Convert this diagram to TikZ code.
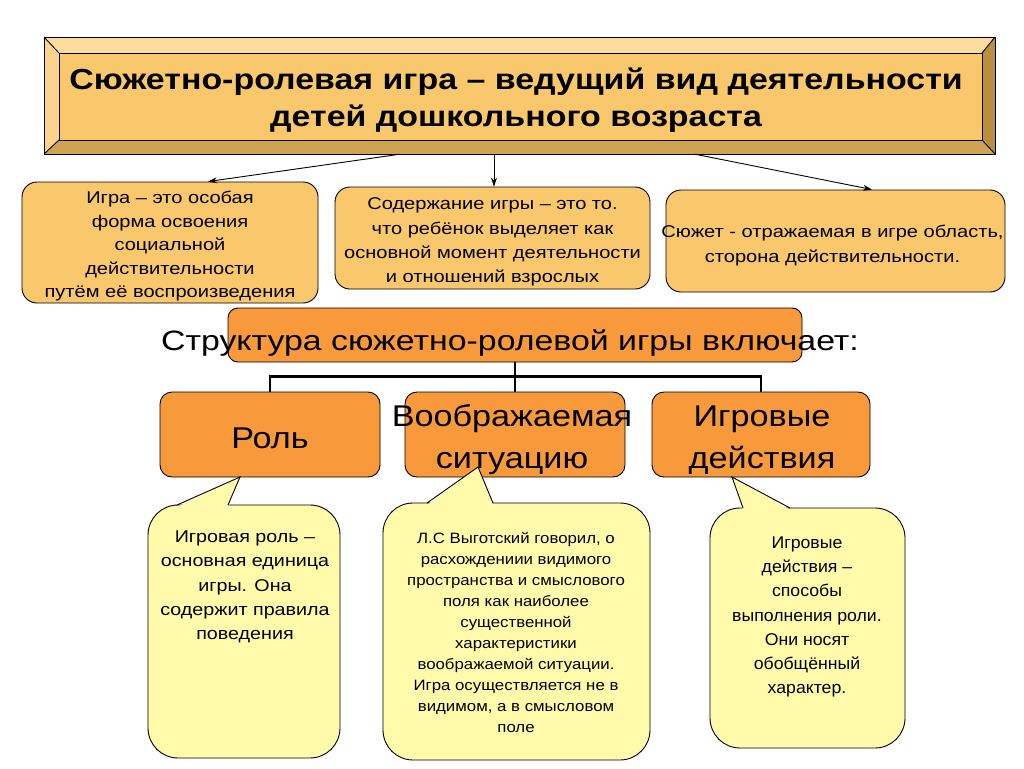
\documentclass[tikz,border=0pt]{standalone}
\usepackage{fontspec}
\setmainfont{Liberation Sans}
\newfontfamily\fTitle[FakeStretch=1.17]{Liberation Sans}
\newfontfamily\fBox[FakeStretch=1.18]{Liberation Sans}
\newfontfamily\fStruct[FakeStretch=1.21]{Liberation Sans}
\newfontfamily\fRole[FakeStretch=1.14]{Liberation Sans}
\newfontfamily\fCa[FakeStretch=1.16]{Liberation Sans}
\newfontfamily\fCb[FakeStretch=1.12]{Liberation Sans}
\newfontfamily\fCc[FakeStretch=1.04]{Liberation Sans}
\usetikzlibrary{arrows.meta,calc}
\definecolor{gold}{HTML}{F9C86C}
\definecolor{goldlt}{HTML}{FCDC9C}
\definecolor{goldlf}{HTML}{FBD38C}
\definecolor{golddk}{HTML}{CFA352}
\definecolor{goldrt}{HTML}{B88F3E}
\definecolor{orng}{HTML}{F89A3C}
\definecolor{callyel}{HTML}{FFFBAA}
\tikzset{
  goldbox/.style={draw=black, line width=0.9pt, fill=gold, rounded corners=15pt, inner sep=0pt},
  orbox/.style={draw=black, line width=0.9pt, fill=orng, rounded corners=12pt, inner sep=0pt},
  callbox/.style={draw=black, line width=0.9pt, fill=callyel, rounded corners=30pt, inner sep=0pt},
  txt/.style={align=center, inner sep=0pt, text=black},
  arr/.style={line width=0.9pt, -{Stealth[length=9pt,width=6pt]}},
  tree/.style={line width=2.6pt},
  bev/.style={draw=black, line width=0.9pt, line join=miter},
  pointer/.style={line width=0.9pt, line join=miter}
}
\begin{document}
\begin{tikzpicture}[x=1pt,y=-1pt]
\useasboundingbox (0,0) rectangle (1024,768);
\fill[white] (0,0) rectangle (1024,768);

% ---------- title bevel box ----------
\fill[goldlt] (44,37) -- (995,37) -- (982,53) -- (59,53) -- cycle;
\fill[goldlf] (44,37) -- (59,53) -- (59,140) -- (44,154) -- cycle;
\fill[golddk] (44,154) -- (59,140) -- (982,140) -- (995,154) -- cycle;
\fill[goldrt] (995,37) -- (995,154) -- (982,140) -- (982,53) -- cycle;
\fill[gold] (59,53) rectangle (982,140);
\draw[bev] (44,37) rectangle (995,154);
\draw[bev] (59,53) rectangle (982,140);
\draw[bev] (44,37) -- (59,53) (995,37) -- (982,53) (44,154) -- (59,140) (995,154) -- (982,140);
\node[minimum width=951pt, minimum height=117pt, inner sep=0pt] (tb) at (519.5,95.5) {};
\node[txt, font=\fTitle\fontsize{29}{37}\selectfont\bfseries] (title) at (516,100)
  {Сюжетно-ролевая игра – ведущий вид деятельности\\детей дошкольного возраста};

% ---------- three definition boxes ----------
\node[goldbox, minimum width=296pt, minimum height=121pt] (b1) at (170,242.5) {};
\node[txt, font=\fBox\fontsize{17}{23.5}\selectfont] at ([yshift=-4pt]b1.center)
  {Игра – это особая\\форма освоения\\социальной\\действительности\\путём её воспроизведения};
\node[goldbox, minimum width=315pt, minimum height=102pt] (b2) at (492.5,238) {};
\node[txt, font=\fBox\fontsize{17}{24.3}\selectfont] at ([yshift=-4pt]b2.center)
  {Содержание игры – это то.\\что ребёнок выделяет как\\основной момент деятельности\\и отношений взрослых};
\node[goldbox, minimum width=339pt, minimum height=102pt] (b3) at (835.5,241) {};
\node[txt, font=\fBox\fontsize{17}{25}\selectfont] at ([xshift=-3pt,yshift=-5pt]b3.center)
  {Сюжет - отражаемая в игре область,\\сторона действительности.};

\draw[arr] ([xshift=-119.5pt]tb.south) -- ([xshift=38pt]b1.north);
\draw[arr] ([xshift=-25.5pt]tb.south) -- ([xshift=1.5pt]b2.north);
\draw[arr] ([xshift=175.5pt]tb.south) -- ([xshift=36.5pt]b3.north);

% ---------- structure ----------
\node[orbox, rounded corners=10pt, minimum width=574pt, minimum height=54pt] (sb) at (515,335) {};
\node[inner sep=0pt, anchor=base, font=\fStruct\fontsize{28}{34}\selectfont] (st) at (510,350)
  {Структура сюжетно-ролевой игры включает:};

\node[orbox, minimum width=220pt, minimum height=85pt] (r1) at (270,434.5) {};
\node[orbox, minimum width=220pt, minimum height=85pt] (r2) at (515,434.5) {};
\node[orbox, minimum width=218pt, minimum height=85pt] (r3) at (761,434.5) {};
\node[inner sep=0pt, anchor=base, font=\fRole\fontsize{30}{42}\selectfont] at (270,448) {Роль};
\node[txt, font=\fRole\fontsize{30}{42}\selectfont] at (512,440) {Воображаемая\\ситуацию};
\node[txt, font=\fRole\fontsize{30}{42}\selectfont] at (762,440) {Игровые\\действия};

\draw[tree] (sb.south) -- ++(0,14) coordinate (j);
\draw[tree] (r1.north) |- (j) -| (r3.north);
\draw[tree] (j) -- (r2.north);

% ---------- callouts ----------
\node[callbox, minimum width=192pt, minimum height=253pt] (c1) at (244,631.5) {};
\fill[callyel] (177.5,506.8) -- (240,477) -- (228,506.8) -- cycle;
\draw[pointer] (177,505) -- (240,477) -- (228,505);
\node[txt, font=\fCa\fontsize{17}{24.3}\selectfont] at (245,587)
  {Игровая роль –\\основная единица\\игры. Она\\содержит правила\\поведения};

\node[callbox, minimum width=267pt, minimum height=257pt] (c2) at (516.5,631.5) {};
\fill[callyel] (427.5,504.8) -- (478,467) -- (493,504.8) -- cycle;
\draw[pointer] (427,503) -- (478,467) -- (493,503);
\node[txt, font=\fCb\fontsize{15}{21}\selectfont] at (516,632)
  {Л.С Выготский говорил, о\\расхождениии видимого\\пространства и смыслового\\поля как наиболее\\существенной\\характеристики\\воображаемой ситуации.\\Игра осуществляется не в\\видимом, а в смысловом\\поле};

\node[callbox, minimum width=195pt, minimum height=240pt] (c3) at (807.5,628) {};
\fill[callyel] (743,509.8) -- (732,477) -- (790,509.8) -- cycle;
\draw[pointer] (743,508) -- (732,477) -- (790,508);
\node[txt, font=\fCc\fontsize{17}{24.2}\selectfont] at (807,617)
  {Игровые\\действия –\\способы\\выполнения роли.\\Они носят\\обобщённый\\характер.};
\end{tikzpicture}
\end{document}
